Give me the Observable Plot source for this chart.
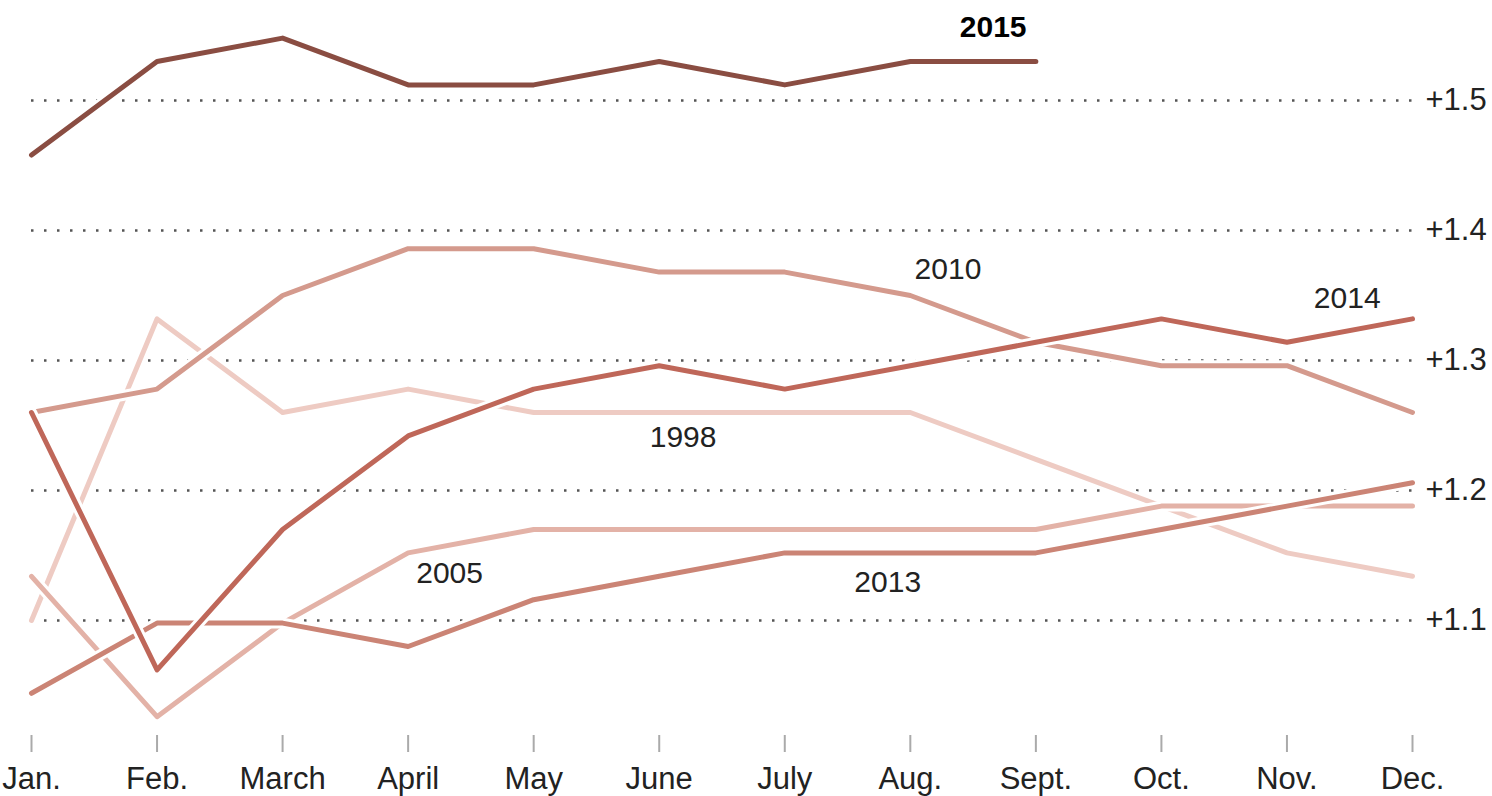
<!DOCTYPE html>
<html>
<head>
<meta charset="utf-8">
<script src="https://cdn.jsdelivr.net/npm/d3@7"></script>
<script src="https://cdn.jsdelivr.net/npm/@observablehq/plot@0.6"></script>
<style>
  html, body { margin: 0; padding: 0; background: #fff; }
  #chart svg { display: block; }
</style>
</head>
<body>
<div id="chart"></div>
<script>
// ---- Data ----
const months = ["Jan.", "Feb.", "March", "April", "May", "June", "July", "Aug.", "Sept.", "Oct.", "Nov.", "Dec."];
const years = ["1998", "2005", "2010", "2013", "2014", "2015"];

const v1998 = [1.100, 1.332, 1.260, 1.278, 1.260, 1.260, 1.260, 1.260, 1.224, 1.188, 1.152, 1.134];
const v2005 = [1.134, 1.026, 1.098, 1.152, 1.170, 1.170, 1.170, 1.170, 1.170, 1.188, 1.188, 1.188];
const v2010 = [1.260, 1.278, 1.350, 1.386, 1.386, 1.368, 1.368, 1.350, 1.314, 1.296, 1.296, 1.260];
const v2013 = [1.044, 1.098, 1.098, 1.080, 1.116, 1.134, 1.152, 1.152, 1.152, 1.170, 1.188, 1.206];
const v2014 = [1.260, 1.062, 1.170, 1.242, 1.278, 1.296, 1.278, 1.296, 1.314, 1.332, 1.314, 1.332];
const v2015 = [1.458, 1.530, 1.548, 1.512, 1.512, 1.530, 1.512, 1.530, 1.530];

const seriesValues = [v1998, v2005, v2010, v2013, v2014, v2015];
const seriesColors = ["#eecbc3", "#e3b2a7", "#d49a8d", "#cb8475", "#bf6759", "#8a4d42"];

const yTicks = [1.1, 1.2, 1.3, 1.4, 1.5];

// Year labels: position along month index and value
const labelYears = ["2015", "2010", "2014", "1998", "2005", "2013"];
const labelMonthPos = [7.66, 7.30, 10.48, 5.19, 3.33, 6.82];
const labelValues = [1.556, 1.370, 1.348, 1.241, 1.136, 1.129];
const labelBold = [true, false, false, false, false, false];

// ---- Build tables ----
const rows = years.map((y, si) =>
  seriesValues[si].map((v, i) => ({year: y, m: i, value: v}))
);
const labels = labelYears.map((t, i) => ({text: t, m: labelMonthPos[i], value: labelValues[i], bold: labelBold[i]}));

const font = "'Liberation Sans', Arial, Helvetica, sans-serif";

const lineMarks = [];
rows.forEach((data, si) => {
  lineMarks.push(Plot.line(data, {x: "m", y: "value", stroke: "#fff", strokeWidth: 11, strokeLinejoin: "round"}));
  lineMarks.push(Plot.line(data, {x: "m", y: "value", stroke: seriesColors[si], strokeWidth: 5, strokeLinejoin: "round"}));
});

const chart = Plot.plot({
  width: 1492,
  height: 796,
  marginLeft: 31,
  marginRight: 80,
  marginTop: 10,
  marginBottom: 61,
  style: {fontFamily: font, background: "#fff", overflow: "visible"},
  x: {type: "linear", domain: [0, 11]},
  y: {domain: [1.01154, 1.56923]},
  marks: [
    Plot.ruleY(yTicks, {stroke: "#555", strokeWidth: 2.5, strokeDasharray: "2.5,10.5", insetRight: -7}),
    Plot.axisY({
      anchor: "right", ticks: yTicks, tickSize: 0, tickPadding: 13,
      tickFormat: d => "+" + d.toFixed(1),
      fontSize: 31, fill: "#222", label: null
    }),
    Plot.axisX({
      ticks: months.map((_, i) => i), tickFormat: i => months[i],
      tickSize: 17, tickPadding: 14, stroke: "#aaa", strokeWidth: 2,
      fontSize: 31, fill: "#222", label: null
    }),
    ...lineMarks,
    Plot.text(labels.filter(d => !d.bold), {x: "m", y: "value", text: "text", fontSize: 30, fill: "#222"}),
    Plot.text(labels.filter(d => d.bold), {x: "m", y: "value", text: "text", fontSize: 30, fontWeight: "bold", fill: "#000"})
  ]
});

document.getElementById("chart").appendChild(chart);
</script>
</body>
</html>
